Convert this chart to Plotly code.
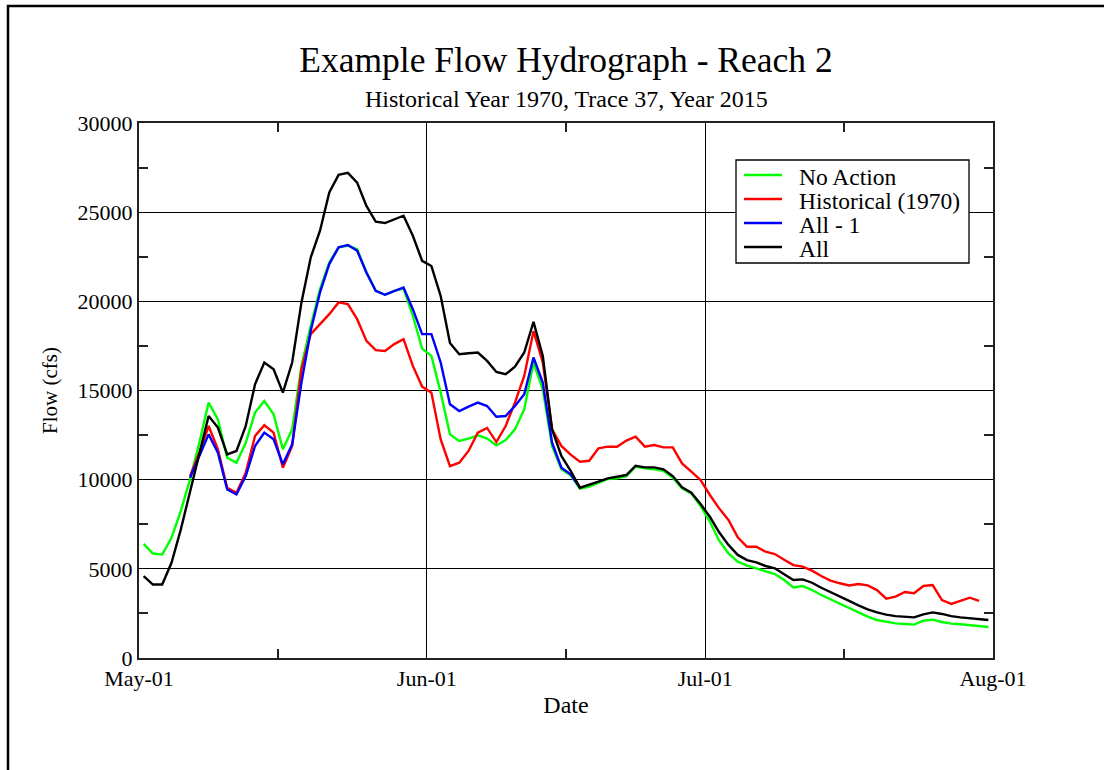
import plotly.graph_objects as go
import pandas as pd

# ---------------- data (daily flows, cfs) ----------------
start_day = "2015-05-01 12:00"

no_action = [6400, 5860, 5800, 6740, 8240, 10020, 12070, 14320, 13380, 11230, 10950, 12070,
             13760, 14410, 13670, 11700, 12820, 16380, 18630, 20690, 22180, 23030, 23120,
             22930, 21620, 20590, 20370, 20590, 20720, 19190, 17350, 16940, 14880, 12540,
             12170, 12300, 12490, 12300, 11920, 12220, 12820, 13950, 16570, 15070, 11890,
             10580, 10250,
             9490, 9610, 9830, 10040, 10070, 10200, 10730, 10630, 10580, 10500, 10110, 9510,
             9230, 8520, 7640, 6580, 5870, 5400, 5180, 5030, 4900, 4710, 4370,
             3960, 4040, 3810, 3530, 3290, 3050, 2800, 2560, 2320, 2130, 2020, 1940, 1910,
             1870, 2090, 2150, 2020, 1930, 1890, 1830, 1790, 1740]

historical_offset = 5
historical = [10200, 11510, 13010, 11700, 9550, 9270, 10390, 12450, 13050, 12640, 10670, 11890,
              16190, 18160, 18720, 19280, 19940, 19840,
              19000, 17780, 17260, 17220, 17600, 17880, 16380, 15220, 14880, 12260, 10760,
              10950, 11610, 12640, 12900, 12110, 13010, 14320, 15820, 18330, 16570, 12820,
              11890, 11400,
              11010, 11060, 11760, 11850, 11850, 12190, 12410, 11850, 11940, 11810, 11810,
              10910, 10450, 9980, 9140, 8390, 7740, 6770, 6240, 6240, 5960, 5830, 5510,
              5210, 5120, 4900, 4600, 4340, 4190, 4070, 4150, 4070, 3810, 3330, 3440, 3700,
              3630, 4040, 4090, 3250, 3030, 3210, 3380, 3200]

all_minus_1_offset = 5
all_minus_1 = [10110, 11330, 12540, 11510, 9450, 9170, 10200, 11890, 12640, 12260, 10860, 11980,
               15440, 18350, 20500, 22090, 23030, 23160,
               22840, 21620, 20590, 20370, 20590, 20780, 19560, 18160, 18160, 16570, 14230,
               13850, 14100, 14320, 14130, 13530, 13570, 14130, 14790, 16850, 15440, 12070,
               10670, 10300, 9550]

all_actions = [4590, 4120, 4120, 5340, 7200, 9270, 11330, 13570, 12920, 11420, 11610, 13010,
               15350, 16570, 16190, 14880, 16570, 19940, 22460, 23960, 26110, 27090, 27200,
               26660, 25350, 24470, 24390, 24610, 24800, 23680, 22270, 21980, 20300, 17670,
               17030, 17090, 17130, 16660, 16040, 15910, 16340, 17130, 18850, 16940, 12820,
               11330, 10500,
               9550, 9700, 9890, 10070, 10170, 10260, 10780, 10690, 10690, 10580, 10200, 9570,
               9270, 8630, 7920, 7050, 6340, 5780, 5490, 5360, 5160, 5030, 4700,
               4370, 4410, 4220, 3940, 3680, 3440, 3200, 2950, 2730, 2560, 2430, 2350, 2300,
               2280, 2450, 2560, 2470, 2350, 2280, 2220, 2190, 2130]

series_names = ["No Action", "Historical (1970)", "All - 1", "All"]
series_colors = ["#00ff00", "#ff0000", "#0000ff", "#000000"]
series_values = [no_action, historical, all_minus_1, all_actions]
series_offsets = [0, historical_offset, all_minus_1_offset, 0]

x_tick_dates = ["2015-05-01", "2015-06-01", "2015-07-01", "2015-08-01"]
x_tick_labels = ["May-01", "Jun-01", "Jul-01", "Aug-01"]
x_minor_dates = ["2015-05-16", "2015-06-16", "2015-07-16"]

title_text = "Example Flow Hydrograph - Reach 2"
subtitle_text = "Historical Year 1970, Trace 37, Year 2015"

# ---------------- figure ----------------
FONT = "Liberation Serif, Times New Roman, serif"
W, H = 1104, 770
ML, MR, MT, MB = 139, 111, 123, 112
PW, PH = W - ML - MR, H - MT - MB


def px_to_paper(x, y):
    return (x - ML) / PW, (H - MB - y) / PH


fig = go.Figure()
base = pd.Timestamp(start_day)
for name, color, vals, off in zip(series_names, series_colors, series_values, series_offsets):
    dates = pd.date_range(base + pd.Timedelta(days=off), periods=len(vals), freq="D")
    fig.add_trace(go.Scatter(x=dates, y=vals, mode="lines", name=name,
                             line=dict(color=color, width=2.4), showlegend=False))

shapes = []
annotations = []

# outer frame (partially visible, as in the reference)
fx0, fy1 = px_to_paper(8, 6)
fx1, fy0 = px_to_paper(1200, 860)
shapes.append(dict(type="rect", xref="paper", yref="paper", x0=fx0, x1=fx1, y0=fy0, y1=fy1,
                   line=dict(color="black", width=2.5), fillcolor="rgba(0,0,0,0)", layer="above"))

# legend box drawn to match the reference layout
bx0, by0 = px_to_paper(736, 263)
bx1, by1 = px_to_paper(969, 160)
shapes.append(dict(type="rect", xref="paper", yref="paper", x0=bx0, x1=bx1, y0=by0, y1=by1,
                   line=dict(color="black", width=1.3), fillcolor="white", layer="above"))
for i, (name, color) in enumerate(zip(series_names, series_colors)):
    row_y = 175 + 24 * i
    lx0, ly = px_to_paper(744, row_y)
    lx1, _ = px_to_paper(782, row_y)
    shapes.append(dict(type="line", xref="paper", yref="paper", x0=lx0, x1=lx1, y0=ly, y1=ly,
                       line=dict(color=color, width=2.5), layer="above"))
    tx, ty = px_to_paper(797, row_y + 2)
    annotations.append(dict(text=name, xref="paper", yref="paper", x=tx, y=ty,
                            xanchor="left", yanchor="middle", showarrow=False,
                            font=dict(family=FONT, size=23.5, color="black")))

# subtitle
sx, sy = px_to_paper(566, 99)
annotations.append(dict(text=subtitle_text, xref="paper", yref="paper", x=0.5, y=sy,
                        xanchor="center", yanchor="middle", showarrow=False,
                        font=dict(family=FONT, size=24, color="black")))

fig.update_layout(
    width=W, height=H,
    margin=dict(l=ML, r=MR, t=MT, b=MB, autoexpand=False),
    paper_bgcolor="white", plot_bgcolor="white",
    title=dict(text=title_text, x=(ML + PW / 2) / W, xanchor="center",
               y=1 - 60 / H, yanchor="middle",
               font=dict(family=FONT, size=35.5, color="black")),
    font=dict(family=FONT, color="black"),
    shapes=shapes,
    annotations=annotations,
    showlegend=False,
)

fig.update_xaxes(
    type="date",
    range=["2015-05-01", "2015-08-01"],
    tickmode="array", tickvals=x_tick_dates, ticktext=x_tick_labels,
    ticks="inside", ticklen=0,
    showgrid=True, gridcolor="black", gridwidth=1.2,
    showline=True, linecolor="#222", linewidth=2, mirror="allticks",
    tickfont=dict(family=FONT, size=22, color="black"),
    minor=dict(tickmode="array", tickvals=x_minor_dates, ticks="inside",
               ticklen=9, tickcolor="#222", tickwidth=1.5, showgrid=False),
    title=dict(text="Date", font=dict(family=FONT, size=24, color="black"), standoff=6),
    zeroline=False,
)

fig.update_yaxes(
    range=[0, 30000],
    tickmode="linear", tick0=0, dtick=5000, tickformat="d",
    ticks="inside", ticklen=0,
    showgrid=True, gridcolor="black", gridwidth=1.2,
    showline=True, linecolor="#222", linewidth=2, mirror="allticks",
    tickfont=dict(family=FONT, size=22, color="black"),
    minor=dict(tickmode="linear", tick0=2500, dtick=5000, ticks="inside",
               ticklen=9, tickcolor="#222", tickwidth=1.5, showgrid=False),
    title=dict(text="Flow (cfs)", font=dict(family=FONT, size=21, color="black"), standoff=14),
    zeroline=False,
)

fig.write_html("out.html")
